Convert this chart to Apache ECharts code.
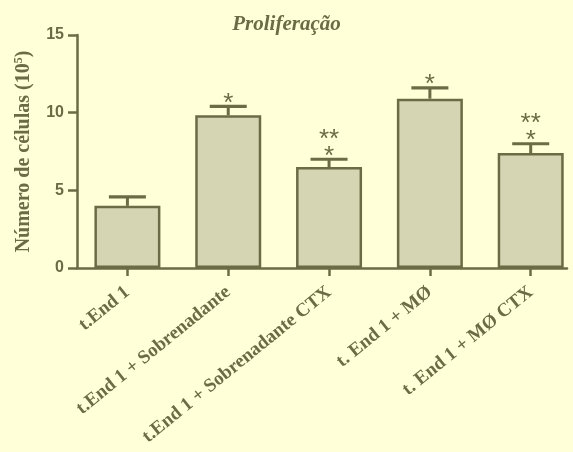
<!DOCTYPE html>
<html>
<head>
<meta charset="utf-8">
<script src="https://cdn.jsdelivr.net/npm/echarts@6/dist/echarts.min.js"></script>
<style>
  html, body { margin: 0; padding: 0; background: #FFFFD8; }
  #chart { width: 573px; height: 452px; }
</style>
</head>
<body>
<div id="chart"></div>
<script>
// Groups, mean cell counts (x10^5), error (SEM) and significance marks
const categories = [
  't.End 1',
  't.End 1 + Sobrenadante',
  't.End 1 + Sobrenadante CTX',
  't. End 1 + MØ',
  't. End 1 + MØ CTX'
];
const means = [4.0, 9.83, 6.5, 10.9, 7.4];
const errors = [0.58, 0.58, 0.5, 0.7, 0.6];
const significance = ['', '*', '**\n*', '*', '**\n*'];
const yTicks = [0, 5, 10, 15];

const INK = '#6B6B45';
const FILL = '#D5D5B3';
const BG = '#FFFFD8';

const positions = categories.map((_, i) => i);

const chart = echarts.init(document.getElementById('chart'));

chart.setOption({
  backgroundColor: BG,
  animation: false,
  title: {
    text: 'Proliferação',
    left: 'center',
    top: 9,
    textStyle: {
      color: INK,
      fontFamily: 'Liberation Serif',
      fontStyle: 'italic',
      fontWeight: 'bold',
      fontSize: 21
    }
  },
  grid: { left: 77, top: 35, width: 490, height: 233 },
  xAxis: {
    type: 'value',
    min: -0.5,
    max: 4.36,
    splitLine: { show: false },
    axisLine: { show: true, lineStyle: { color: INK, width: 2.5 } },
    axisTick: {
      show: true,
      customValues: positions,
      length: 8,
      lineStyle: { color: INK, width: 2.5 }
    },
    axisLabel: {
      customValues: positions,
      formatter: (v) => categories[Math.round(v)] || '',
      rotate: 39,
      margin: 22,
      color: INK,
      fontFamily: 'Liberation Serif',
      fontWeight: 'bold',
      fontSize: 19
    }
  },
  yAxis: {
    type: 'value',
    min: yTicks[0],
    max: yTicks[yTicks.length - 1],
    interval: yTicks[1] - yTicks[0],
    splitLine: { show: false },
    axisLine: { show: true, onZero: false, lineStyle: { color: INK, width: 2.5 } },
    axisTick: { show: true, length: 9, lineStyle: { color: INK, width: 2.5 } },
    axisLabel: {
      margin: 13,
      color: INK,
      fontFamily: 'Liberation Sans',
      fontWeight: 'bold',
      fontSize: 16
    },
    name: '{a|Número de células (10}{s|5}{a|)}',
    nameLocation: 'middle',
    nameGap: 43,
    nameTextStyle: {
      rich: {
        a: {
          color: INK,
          fontFamily: 'Liberation Serif',
          fontWeight: 'bold',
          fontSize: 20
        },
        s: {
          color: INK,
          fontFamily: 'Liberation Serif',
          fontWeight: 'bold',
          fontSize: 12,
          padding: [0, 0, 9, 0]
        }
      }
    }
  },
  series: [
    {
      type: 'bar',
      barWidth: 66,
      data: means.map((v, i) => [positions[i], v]),
      itemStyle: { color: FILL, borderColor: INK, borderWidth: 2.5 },
      z: 2
    },
    {
      type: 'custom',
      z: 3,
      data: means.map((v, i) => [positions[i], v, errors[i]]),
      renderItem: (params, api) => {
        const x = api.value(0);
        const m = api.value(1);
        const e = api.value(2);
        const base = api.coord([x, m]);
        const cap = api.coord([x, m + e]);
        const half = 18.5;
        const children = [
          { type: 'line', shape: { x1: base[0], y1: base[1], x2: cap[0], y2: cap[1] },
            style: { stroke: INK, lineWidth: 3 } },
          { type: 'line', shape: { x1: cap[0] - half, y1: cap[1], x2: cap[0] + half, y2: cap[1] },
            style: { stroke: INK, lineWidth: 3.2 } }
        ];
        const sig = significance[params.dataIndex];
        if (sig) {
          children.push({
            type: 'text',
            x: cap[0],
            y: cap[1] + 6,
            style: {
              text: sig,
              fill: INK,
              fontFamily: 'Liberation Sans',
              fontSize: 26,
              lineHeight: 17,
              align: 'center',
              verticalAlign: 'bottom'
            }
          });
        }
        return { type: 'group', children };
      }
    }
  ]
});
</script>
</body>
</html>
